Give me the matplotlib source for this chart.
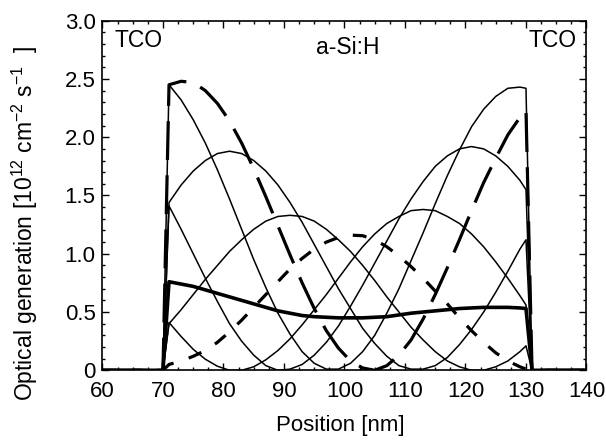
import matplotlib
matplotlib.use("Agg")
import matplotlib.pyplot as plt
from matplotlib.ticker import MultipleLocator

plt.rcParams["font.family"] = ["Liberation Sans", "DejaVu Sans"]
plt.rcParams["mathtext.fontset"] = "custom"
plt.rcParams["mathtext.rm"] = "Liberation Sans"
plt.rcParams["mathtext.it"] = "Liberation Sans"
plt.rcParams["lines.scale_dashes"] = False

# Positions [nm]: TCO on both sides, a-Si:H absorber in between
x_left_tco = [60, 70]
x_layer = [71, 73, 75, 77, 79, 81, 83, 85, 87, 89, 91, 93, 95, 97, 99, 101,
           103, 105, 107, 109, 111, 113, 115, 117, 119, 121, 123, 125, 127,
           129, 130]
x_right_tco = [131, 140]

# Optical generation inside the absorber [1e12 cm^-2 s^-1]
gen_a = [2.45, 2.32, 2.15, 1.95, 1.72, 1.47, 1.21, 0.95, 0.71, 0.49, 0.31,
         0.16, 0.06, 0.01, 0.01, 0.06, 0.16, 0.30, 0.49, 0.70, 0.94, 1.18,
         1.43, 1.67, 1.89, 2.09, 2.24, 2.35, 2.42, 2.43, 2.42]
gen_b = [1.44, 1.59, 1.71, 1.80, 1.86, 1.88, 1.86, 1.80, 1.71, 1.59, 1.44,
         1.27, 1.08, 0.89, 0.70, 0.53, 0.36, 0.23, 0.12, 0.04, 0.01, 0.01,
         0.04, 0.11, 0.22, 0.35, 0.50, 0.67, 0.85, 1.04, 1.12]
gen_c = [0.40, 0.52, 0.65, 0.78, 0.90, 1.02, 1.12, 1.21, 1.28, 1.32, 1.33,
         1.32, 1.28, 1.21, 1.12, 1.02, 0.90, 0.77, 0.63, 0.50, 0.37, 0.26,
         0.16, 0.08, 0.03, 0.00, 0.00, 0.03, 0.08, 0.16, 0.21]
gen_d = [0.41, 0.29, 0.18, 0.095, 0.035, 0.00, 0.00, 0.03, 0.09, 0.17, 0.27,
         0.39, 0.52, 0.65, 0.79, 0.93, 1.06, 1.17, 1.26, 1.32, 1.37, 1.38,
         1.37, 1.32, 1.26, 1.17, 1.06, 0.93, 0.79, 0.64, 0.56]
gen_e = [1.41, 1.21, 1.00, 0.79, 0.59, 0.40, 0.25, 0.13, 0.04, 0.00, 0.01,
         0.05, 0.13, 0.24, 0.38, 0.55, 0.73, 0.92, 1.11, 1.30, 1.47, 1.62,
         1.75, 1.84, 1.90, 1.92, 1.90, 1.84, 1.75, 1.63, 1.55]
gen_long = [2.45, 2.48, 2.47, 2.40, 2.29, 2.14, 1.95, 1.73, 1.49, 1.24, 0.99,
            0.75, 0.53, 0.34, 0.19, 0.08, 0.02, 0.00, 0.04, 0.13, 0.26, 0.44,
            0.65, 0.88, 1.12, 1.37, 1.61, 1.82, 2.02, 2.17, 2.23]
gen_mid = [0.05, 0.08, 0.12, 0.17, 0.24, 0.33, 0.43, 0.54, 0.65, 0.76, 0.87,
           0.96, 1.04, 1.10, 1.14, 1.16, 1.155, 1.12, 1.06, 0.98, 0.89, 0.79,
           0.68, 0.57, 0.45, 0.34, 0.24, 0.15, 0.08, 0.03, 0.01]
gen_avg = [0.76, 0.74, 0.72, 0.69, 0.66, 0.63, 0.60, 0.57, 0.54, 0.51, 0.49,
           0.47, 0.46, 0.455, 0.45, 0.45, 0.45, 0.455, 0.46, 0.475, 0.49,
           0.50, 0.51, 0.52, 0.53, 0.535, 0.54, 0.54, 0.54, 0.535, 0.53]
gen_tco = [0.0, 0.0]  # no generation in the TCO layers

x_ticks = [60, 70, 80, 90, 100, 110, 120, 130, 140]
y_ticks = [0, 0.5, 1.0, 1.5, 2.0, 2.5, 3.0]
y_tick_labels = ["0", "0.5", "1.0", "1.5", "2.0", "2.5", "3.0"]

x_all = x_left_tco + x_layer + x_right_tco


def full(profile):
    return gen_tco + profile + gen_tco


fig = plt.figure(figsize=(6.06, 4.44), dpi=100)
ax = fig.add_axes([0.1691, 0.166, 0.7987, 0.7874])

for prof in (gen_a, gen_b, gen_c, gen_d, gen_e):
    ax.plot(x_all, full(prof), color="black", lw=1.1, solid_joinstyle="round")

ax.plot(x_all, full(gen_long), color="black", lw=2.3, dashes=(28, 11),
        dash_capstyle="butt")
ax.plot(x_all, full(gen_mid), color="black", lw=2.3, dashes=(10, 11.5),
        dash_capstyle="butt")
ax.plot(x_all, full(gen_avg), color="black", lw=2.6, solid_joinstyle="round")

ax.set_xlim(60, 140)
ax.set_ylim(0, 3.0)
ax.set_xticks(x_ticks)
ax.set_yticks(y_ticks)
ax.set_yticklabels(y_tick_labels)
ax.xaxis.set_minor_locator(MultipleLocator(2.5))
ax.yaxis.set_minor_locator(MultipleLocator(0.1))
ax.tick_params(which="both", direction="in", top=True, right=True,
               width=1.0, labelsize=16)
ax.tick_params(which="major", length=5)
ax.tick_params(which="minor", length=2.5)
ax.tick_params(axis="x", pad=8)
ax.tick_params(axis="y", pad=5)
for sp in ax.spines.values():
    sp.set_linewidth(1.2)

ax.text(62.0, 2.83, "TCO", fontsize=16.5, ha="left", va="center")
ax.text(138.4, 2.83, "TCO", fontsize=16.5, ha="right", va="center")
ax.text(100.6, 2.77, "a-Si:H", fontsize=16.5, ha="center", va="center")

fig.text(340 / 606, 1 - 425 / 444, "Position [nm]", fontsize=16,
         ha="center", va="center")
fig.text(25 / 606, 1 - 224 / 444,
         r"Optical generation [10$^{12}$ cm$^{-2}$ s$^{-1}$  ]",
         fontsize=16.5, ha="center", va="center", rotation=90)

fig.savefig("out.png", dpi=100)
